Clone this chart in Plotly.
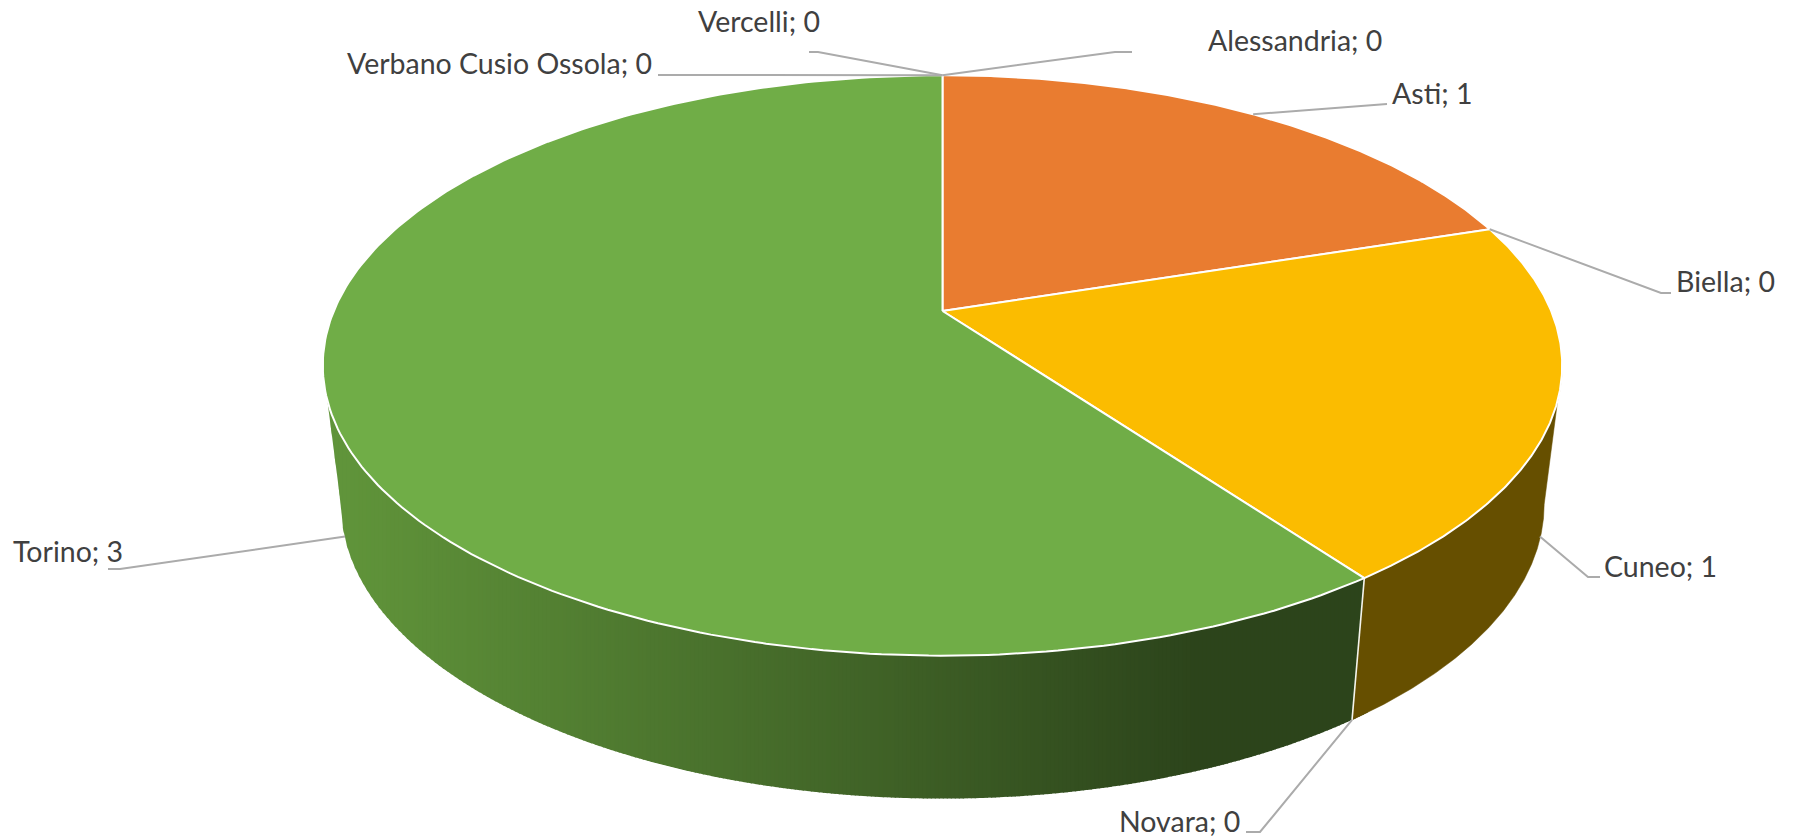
import numpy as np
import plotly.graph_objects as go

names = ["Alessandria", "Asti", "Biella", "Cuneo", "Novara", "Torino", "Verbano Cusio Ossola", "Vercelli"]
values = [0, 1, 0, 1, 0, 3, 0, 0]
top_colors = {"Asti": "#E97C30", "Cuneo": "#FBBC00", "Torino": "#70AD47"}
side_colors = {"Cuneo": "#664F00"}
label_xy = {
    "Alessandria": (1206, 40), "Asti": (1390, 93), "Biella": (1674, 281), "Cuneo": (1602, 566),
    "Novara": (1117, 821), "Torino": (11, 551), "Verbano Cusio Ossola": (345, 63), "Vercelli": (696, 21),
}
# elbow and end of each leader line, in page pixels
leader_path = {
    "Alessandria": [(1115, 52), (1132, 52)], "Asti": [(1376, 105), (1387, 104)],
    "Biella": [(1661, 293), (1671, 293)], "Cuneo": [(1588, 577), (1600, 577)],
    "Novara": [(1260, 832), (1246, 832)], "Torino": [(120, 569), (108, 569)],
    "Verbano Cusio Ossola": [(670, 75), (658, 75)], "Vercelli": [(818, 52), (809, 52)],
}
W, H = 1798, 840
CX = 942.5
TOP = dict(cy=311.0, a=608.7, b=280.0, k=0.1876)
BOT = dict(cy=449.0, a=591.0, b=284.0, k=0.1876)
GRAD_LEFT, GRAD_RIGHT = (96, 148, 58), (44, 68, 27)
GRAD_X0, GRAD_X1 = 344, 1197


def rim(theta_deg, d):
    t = np.radians(theta_deg)
    u, v = np.sin(t), -np.cos(t)
    w = 1 - d["k"] * v
    return CX + d["a"] * u / w, d["cy"] + d["b"] * v / w


def mix(c1, c2, f):
    f = min(max(f, 0), 1)
    return "rgb(%d,%d,%d)" % tuple(round(p + (q - p) * f) for p, q in zip(c1, c2))


total = sum(values)
edges = np.cumsum([0] + values) / total * 360
starts = dict(zip(names, edges[:-1]))
ends = dict(zip(names, edges[1:]))

fig = go.Figure()


def add_poly(x, y, fill, line, width):
    fig.add_trace(go.Scatter(x=list(x), y=list(y), mode="lines", fill="toself", fillcolor=fill,
                             line=dict(color=line, width=width), hoverinfo="skip", showlegend=False))


# the rim's widest points: where the drum's straight silhouette touches each disc
theta_right = np.degrees(np.arccos(-TOP["k"]))
theta_left = 360 - theta_right

# lower outline of the drum, left to right
arc = np.linspace(theta_left, theta_right, 1201)
ox, oy = rim(arc, BOT)
x_left, y_left = rim(theta_left, TOP)
x_right, y_right = rim(theta_right, TOP)
outline_x = np.r_[x_left, ox, x_right]
outline_y = np.r_[y_left, oy, y_right]
rim_row = y_left

# green wall, shaded in vertical bands
x_div_top, _ = rim(ends["Cuneo"], TOP)
band_edges = np.arange(x_left, x_div_top + 4, 4.0)
for x0, x1 in zip(band_edges[:-1], band_edges[1:]):
    c = mix(GRAD_RIGHT, GRAD_LEFT, (GRAD_X1 - (x0 + x1) / 2) / (GRAD_X1 - GRAD_X0))
    y0, y1 = np.interp([x0, x1 + 1], outline_x, outline_y)
    add_poly([x0, x1 + 1, x1 + 1, x0], [rim_row, rim_row, y1, y0], c, c, 0)

# plain wall of the slice on the right
for name, colour in side_colors.items():
    th = np.linspace(ends[name], theta_right, 200)
    xt, yt = rim(th, TOP)
    xb, yb = rim(th[::-1], BOT)
    add_poly(np.r_[xt, xb], np.r_[yt, yb], colour, colour, 0.5)

# divider on the wall between the two front slices
xa, ya = rim(ends["Cuneo"], TOP)
xb, yb = rim(ends["Cuneo"], BOT)
fig.add_trace(go.Scatter(x=[xa, xb], y=[ya, yb], mode="lines", line=dict(color="#F4F4EC", width=1.6),
                         hoverinfo="skip", showlegend=False))

# top faces
for name in names:
    if name not in top_colors:
        continue
    th = np.linspace(starts[name], ends[name], 240)
    x, y = rim(th, TOP)
    add_poly(np.r_[CX, x, CX], np.r_[TOP["cy"], y, TOP["cy"]], top_colors[name], "#FFFFFF", 2)

# leader lines
for name in names:
    s, e = starts[name], ends[name]
    mid = (s + e) / 2
    if 90 < mid < 270 and e > s:
        xt, yt = rim(mid, TOP)
        xb, yb = rim(mid, BOT)
        f = 0.96
        ax, ay = xt + (xb - xt) * f, yt + (yb - yt) * f
    elif name == "Novara":
        ax, ay = rim(mid, BOT)
    else:
        ax, ay = rim(mid, TOP)
    px = [ax] + [p[0] for p in leader_path[name]]
    py = [ay] + [p[1] for p in leader_path[name]]
    fig.add_trace(go.Scatter(x=px, y=py, mode="lines", line=dict(color="#ABABAB", width=2),
                             hoverinfo="skip", showlegend=False))

annotations = [
    dict(x=label_xy[n][0], y=label_xy[n][1], xref="x", yref="y", text=f"{n}; {v}", showarrow=False,
         xanchor="left", yanchor="middle", font=dict(family="Lato", size=28.5, color="#404040"))
    for n, v in zip(names, values)
]

fig.update_layout(
    width=W, height=H, autosize=False, margin=dict(l=0, r=0, t=0, b=0),
    paper_bgcolor="white", plot_bgcolor="white", showlegend=False, annotations=annotations,
    xaxis=dict(range=[0, W], visible=False, fixedrange=True),
    yaxis=dict(range=[H, 0], visible=False, fixedrange=True),
)
fig.write_html("out.html", post_script="document.body.style.margin='0';document.documentElement.style.overflow='hidden';",
               config=dict(displayModeBar=False))
